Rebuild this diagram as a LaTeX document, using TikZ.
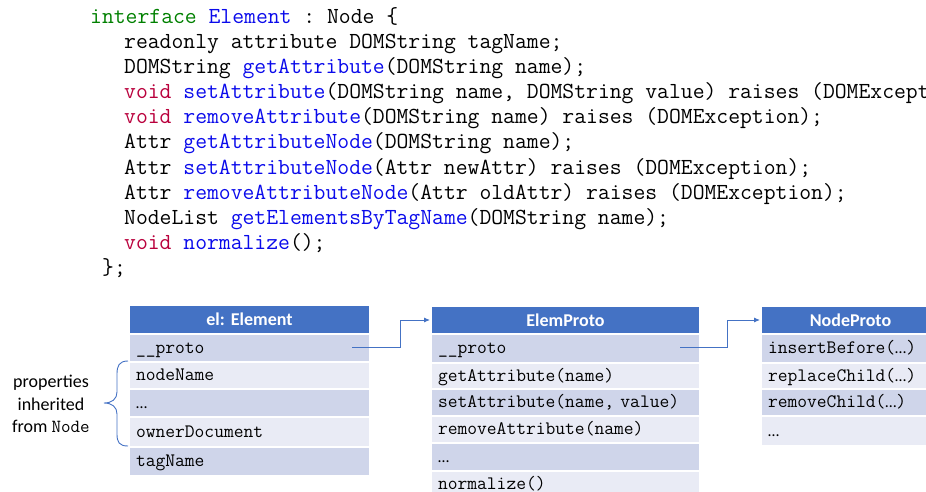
\documentclass[tikz,border=0pt]{standalone}
\usepackage{fontspec}
\setmainfont{Carlito}
\usetikzlibrary{arrows.meta}
\definecolor{hdr}{HTML}{4472C4}
\definecolor{rowdark}{HTML}{CFD5EA}
\definecolor{rowlight}{HTML}{E9EBF5}
\definecolor{kwgreen}{RGB}{0,128,0}
\definecolor{fnblue}{RGB}{10,10,235}
\definecolor{voidred}{RGB}{185,0,60}
\newcommand{\kw}[1]{\textcolor{kwgreen}{#1}}
\newcommand{\fn}[1]{\textcolor{fnblue}{#1}}
\newcommand{\vd}[1]{\textcolor{voidred}{#1}}
\newcommand{\elips}{{\fontsize{16}{18}\selectfont\rmfamily …}}
\frenchspacing
\tikzset{
  codeline/.style={anchor=base west, inner sep=0pt, font=\fontsize{23}{25}\selectfont\ttfamily},
  cellbox/.style={anchor=north west, rectangle, draw=white, line width=2pt,
    inner xsep=7pt, inner ysep=0pt, align=left, text height=12pt, text depth=2pt,
    font=\fontsize{19}{20}\selectfont\ttfamily},
  hdrbox/.style={anchor=north west, rectangle, fill=hdr, draw=white, line width=2pt,
    inner xsep=0pt, inner ysep=0pt, align=center, text height=12pt, text depth=0pt,
    text=white, font=\fontsize{18}{20}\selectfont\bfseries},
  dark/.style={cellbox, fill=rowdark},
  light/.style={cellbox, fill=rowlight},
  link/.style={draw=hdr, line width=0.9pt, -{Latex[length=6pt,width=5pt]}},
}
\begin{document}
\begin{tikzpicture}[x=1pt,y=-1pt]
\path[use as bounding box] (0,0) rectangle (926,492);
\clip (0,0) rectangle (926,492);
% code
\node[codeline] (c1) at (90,24) {\kw{interface} \fn{Element} : Node \{};
\node[codeline] (c2) at (124,49) {readonly attribute DOMString tagName;};
\node[codeline] (c3) at (124,74) {DOMString \fn{getAttribute}(DOMString name);};
\node[codeline] (c4) at (124,99) {\vd{void} \fn{setAttribute}(DOMString name, DOMString value) raises (DOMException);};
\node[codeline] (c5) at (124,124) {\vd{void} \fn{removeAttribute}(DOMString name) raises (DOMException);};
\node[codeline] (c6) at (124,149) {Attr \fn{getAttributeNode}(DOMString name);};
\node[codeline] (c7) at (124,174) {Attr \fn{setAttributeNode}(Attr newAttr) raises (DOMException);};
\node[codeline] (c8) at (124,199) {Attr \fn{removeAttributeNode}(Attr oldAttr) raises (DOMException);};
\node[codeline] (c9) at (124,224) {NodeList \fn{getElementsByTagName}(DOMString name);};
\node[codeline] (c10) at (124,249) {\vd{void} \fn{normalize}();};
\node[codeline] (c11) at (102,274) {\};};
% el: Element
\node[hdrbox, minimum width=241pt, minimum height=29pt, text width=241pt] (elh) at (128,304) {el: Element};
\node[dark, minimum width=241pt, minimum height=28pt, text width=227pt] (el1) at (128,333) {\_\_proto};
\node[light, minimum width=241pt, minimum height=27pt, text width=227pt] (el2) at (128,361) {nodeName};
\node[dark, minimum width=241pt, minimum height=28pt, text width=227pt] (el3) at (128,388) {\elips};
\node[light, minimum width=241pt, minimum height=30pt, text width=227pt] (el4) at (128,416) {ownerDocument};
\node[dark, minimum width=241pt, minimum height=29pt, text width=227pt] (el5) at (128,446) {tagName};
% ElemProto
\node[hdrbox, minimum width=269pt, minimum height=28pt, text width=269pt] (eph) at (430,305) {ElemProto};
\node[dark, minimum width=269pt, minimum height=29pt, text width=255pt] (ep1) at (430,333) {\_\_proto};
\node[light, minimum width=269pt, minimum height=26pt, text width=255pt] (ep2) at (430,362) {getAttribute(name)};
\node[dark, minimum width=269pt, minimum height=27pt, text width=255pt] (ep3) at (430,388) {setAttribute(name, value)};
\node[light, minimum width=269pt, minimum height=27pt, text width=255pt] (ep4) at (430,415) {removeAttribute(name)};
\node[dark, minimum width=269pt, minimum height=28pt, text width=255pt] (ep5) at (430,442) {\elips};
\node[light, minimum width=269pt, minimum height=27pt, text width=255pt] (ep6) at (430,470) {normalize()};
% NodeProto
\node[hdrbox, minimum width=179pt, minimum height=28pt, text width=179pt] (nph) at (760,305) {NodeProto};
\node[dark, minimum width=179pt, minimum height=29pt, text width=165pt] (np1) at (760,333) {insertBefore(\elips)};
\node[light, minimum width=179pt, minimum height=26pt, text width=165pt] (np2) at (760,362) {replaceChild(\elips)};
\node[dark, minimum width=179pt, minimum height=27pt, text width=165pt] (np3) at (760,388) {removeChild(\elips)};
\node[light, minimum width=179pt, minimum height=30pt, text width=165pt] (np4) at (760,415) {\elips};
% links
\coordinate (s1) at (352,347);
\coordinate (s2) at (680,347);
\draw[link] (s1) -- ++(48,0) |- (eph.west);
\draw[link] (s2) -- ++(47,0) |- (nph.west);
% brace
\coordinate (bt) at (128,361);
\coordinate (bb) at (128,446);
\coordinate (tip) at (104,403);
\draw[hdr, line width=0.9pt] (bt) .. controls (119,361) and (117,366) .. (117,374)
  -- (117,392) .. controls (117,399) and (112,403) .. (tip)
  .. controls (112,403) and (117,407) .. (117,414)
  -- (117,434) .. controls (117,442) and (119,446) .. (bb);
\node[align=center, inner sep=0pt, font=\fontsize{18}{22.5}\selectfont] (lbl) at (51,404)
  {properties\\inherited\\from {\fontsize{18.5}{22.5}\selectfont\ttfamily Node}};
\end{tikzpicture}
\end{document}
